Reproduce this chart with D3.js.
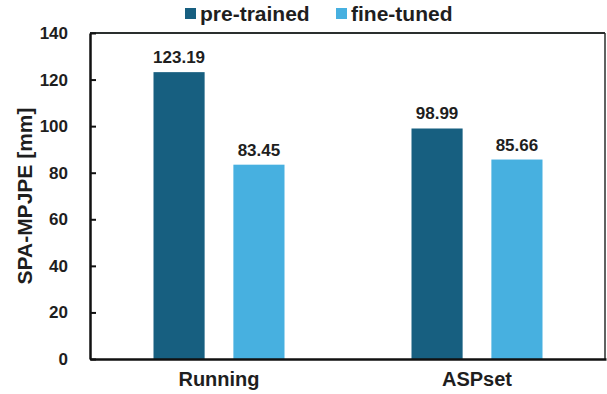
<!DOCTYPE html>
<html>
<head>
<meta charset="utf-8">
<script src="https://cdn.jsdelivr.net/npm/d3@7"></script>
<style>
  body { margin: 0; background: #fff; }
  text { font-family: "Liberation Sans", Arial, sans-serif; font-weight: bold; fill: #1e1e1e; }
</style>
</head>
<body>
<div id="chart"></div>
<script>
// data
var categories = ["Running", "ASPset"];
var seriesNames = ["pre-trained", "fine-tuned"];
var preTrained = [123.19, 98.99];
var fineTuned = [83.45, 85.66];
var yTicks = [0, 20, 40, 60, 80, 100, 120, 140];
var colors = ["#175f80", "#47b0e0"];

var width = 607, height = 394;
var margin = { top: 33, right: 1, bottom: 35, left: 90 };

var svg = d3.select("#chart").append("svg")
    .attr("width", width)
    .attr("height", height);

var x0 = d3.scaleBand()
    .domain(categories)
    .range([margin.left, width - margin.right]);

var x1 = d3.scaleBand()
    .domain(seriesNames)
    .range([0, 131])
    .paddingInner(0.36);

var y = d3.scaleLinear()
    .domain([0, 140])
    .range([height - margin.bottom, margin.top]);

var rows = categories.map(function (c, i) {
    return { cat: c, values: [
        { name: seriesNames[0], v: preTrained[i] },
        { name: seriesNames[1], v: fineTuned[i] }
    ] };
});

// bars
var groups = svg.append("g").selectAll("g")
    .data(rows)
    .join("g")
    .attr("transform", function (d) {
        return "translate(" + (x0(d.cat) + x0.bandwidth() / 2 - 65.5) + ",0)";
    });

groups.selectAll("rect")
    .data(function (d) { return d.values; })
    .join("rect")
    .attr("x", function (d) { return x1(d.name); })
    .attr("y", function (d) { return y(d.v); })
    .attr("width", x1.bandwidth())
    .attr("height", function (d) { return y(0) - y(d.v); })
    .attr("fill", function (d, i) { return colors[i]; });

groups.selectAll("text.val")
    .data(function (d) { return d.values; })
    .join("text")
    .attr("class", "val")
    .attr("x", function (d) { return x1(d.name) + x1.bandwidth() / 2; })
    .attr("y", function (d) { return y(d.v) - 9; })
    .attr("text-anchor", "middle")
    .style("font-size", "17px")
    .text(function (d) { return d.v.toFixed(2); });

// frame
svg.append("line")
    .attr("x1", margin.left).attr("x2", width - 2)
    .attr("y1", y(140)).attr("y2", y(140))
    .attr("stroke", "#2a2f2e").attr("stroke-width", 2);
svg.append("line")
    .attr("x1", width - 2).attr("x2", width - 2)
    .attr("y1", y(140)).attr("y2", y(0))
    .attr("stroke", "#2a2f2e").attr("stroke-width", 1.5);

// y axis
var yAxis = svg.append("g")
    .attr("transform", "translate(" + margin.left + ",0)")
    .call(d3.axisLeft(y).tickValues(yTicks).tickSizeInner(-6).tickSizeOuter(0).tickPadding(22));
yAxis.select(".domain").attr("stroke", "#111").attr("stroke-width", 2.5);
yAxis.selectAll(".tick line").attr("stroke", "#111").attr("stroke-width", 2);
yAxis.selectAll("text").style("font-size", "17px").attr("fill", "#1e1e1e");

// x axis
var xAxis = svg.append("g")
    .attr("transform", "translate(0," + y(0) + ")")
    .call(d3.axisBottom(x0).tickSize(0).tickPadding(13));
xAxis.select(".domain").attr("stroke", "#111").attr("stroke-width", 2.5);
xAxis.selectAll("text").style("font-size", "20px").attr("fill", "#1e1e1e");

// y label
svg.append("text")
    .attr("transform", "translate(32," + ((y(0) + y(140)) / 2) + ") rotate(-90)")
    .attr("text-anchor", "middle")
    .style("font-size", "21px")
    .text("SPA-MPJPE [mm]");

// legend
var legendX = [185, 336];
var legend = svg.append("g").selectAll("g")
    .data(seriesNames)
    .join("g")
    .attr("transform", function (d, i) { return "translate(" + legendX[i] + ",8)"; });
legend.append("rect")
    .attr("width", 11).attr("height", 11)
    .attr("fill", function (d, i) { return colors[i]; });
legend.append("text")
    .attr("x", 15).attr("y", 13)
    .style("font-size", "21px")
    .text(function (d) { return d; });
</script>
</body>
</html>
